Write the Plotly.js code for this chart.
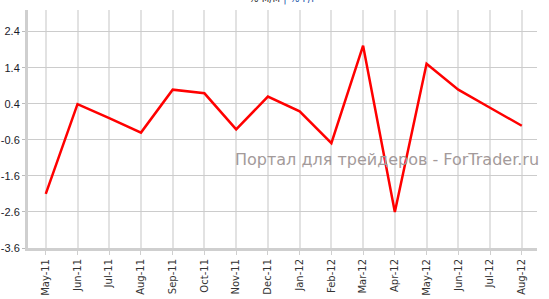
<!DOCTYPE html>
<html>
<head>
<meta charset="utf-8">
<script src="https://cdn.plot.ly/plotly-3.0.1.min.js"></script>
<style>html,body{margin:0;padding:0;background:#fff;}#chart{width:549px;height:299px;}</style>
</head>
<body>
<div id="chart"></div>
<script>
const months = ["May-11","Jun-11","Jul-11","Aug-11","Sep-11","Oct-11","Nov-11","Dec-11","Jan-12","Feb-12","Mar-12","Apr-12","May-12","Jun-12","Jul-12","Aug-12"];
const values = [-2.1, 0.39, 0.0, -0.4, 0.79, 0.69, -0.31, 0.6, 0.19, -0.69, 2.01, -2.6, 1.51, 0.79, 0.29, -0.21];
const yTicks = [-3.6, -2.6, -1.6, -0.6, 0.4, 1.4, 2.4];
const yTickLabels = ["-3.6", "-2.6", "-1.6", "-0.6", "0.4", "1.4", "2.4"];
const watermark = "Портал для трейдеров - ForTrader.ru";
const legendLeft = "% м/м";
const legendRight = "% г/г";

const trace = {
  x: months.map((m, i) => i),
  y: values,
  type: "scatter",
  mode: "lines",
  line: {color: "#ff0000", width: 2.5},
  hoverinfo: "none"
};

const layout = {
  width: 549, height: 299,
  margin: {l: 28, r: 12, t: 10, b: 51, pad: 0},
  paper_bgcolor: "#fff", plot_bgcolor: "#fff",
  showlegend: false,
  font: {family: "DejaVu Sans, sans-serif"},
  xaxis: {
    range: [-0.56, 15.48],
    tickmode: "array",
    tickvals: months.map((m, i) => i),
    ticktext: months,
    tickangle: -90,
    tickfont: {size: 10, color: "#333", family: "DejaVu Sans, sans-serif"},
    showgrid: true, gridcolor: "#e2e2e2", gridwidth: 2,
    showline: true, linecolor: "#cfcfcf", linewidth: 3,
    ticks: "outside", ticklen: 4, tickcolor: "#cfcfcf", tickwidth: 1,
    zeroline: false, fixedrange: true
  },
  yaxis: {
    range: [-3.6, 3.0],
    tickmode: "array",
    tickvals: yTicks,
    ticktext: yTickLabels,
    tickfont: {size: 11, color: "#1a1a2a", family: "Liberation Sans, Arial, sans-serif"},
    showgrid: true, gridcolor: "#cccccc", gridwidth: 1,
    showline: true, linecolor: "#cfcfcf", linewidth: 3,
    ticks: "outside", ticklen: 3, tickcolor: "#bbbbbb", tickwidth: 1,
    zeroline: false, fixedrange: true
  },
  annotations: [
    {
      text: watermark, xref: "paper", yref: "paper",
      x: 0.705, y: 0.37, xanchor: "center", yanchor: "middle",
      showarrow: false,
      font: {size: 16, color: "#a39a9a", family: "DejaVu Sans, sans-serif"}
    },
    {
      text: legendLeft + " <span style='color:#2255aa'>| </span><span style='color:#2255aa'>" + legendRight + "</span>",
      xref: "paper", yref: "paper",
      x: 0.5, y: 1.0, xanchor: "center", yanchor: "bottom", yshift: 3,
      showarrow: false,
      font: {size: 10, color: "#333", family: "DejaVu Sans, sans-serif"}
    }
  ]
};

Plotly.newPlot("chart", [trace], layout, {staticPlot: true, displayModeBar: false});
</script>
</body>
</html>
